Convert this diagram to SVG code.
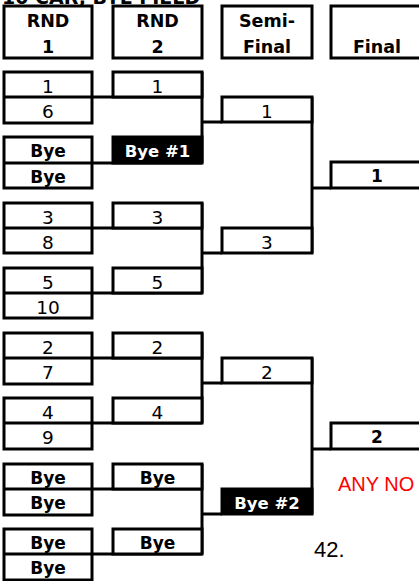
<svg xmlns="http://www.w3.org/2000/svg" width="419" height="581" viewBox="0 0 419 581">
<style>
.b{fill:#fff;stroke:#000;stroke-width:3}
.k{fill:#000;stroke:#000;stroke-width:3}
.l{fill:none;stroke:#000;stroke-width:3}
.t{font-family:"DejaVu Sans",sans-serif;font-size:18.5px;text-anchor:middle;fill:#000}
.tb{font-family:"DejaVu Sans",sans-serif;font-size:17px;font-weight:bold;text-anchor:middle;fill:#000}
.tw{font-family:"DejaVu Sans",sans-serif;font-size:16.5px;font-weight:bold;text-anchor:middle;fill:#fff}
.h{font-family:"DejaVu Sans",sans-serif;font-size:17.5px;font-weight:bold;text-anchor:middle;fill:#000}
</style>
<rect width="419" height="581" fill="#fff"/>
<text x="2" y="4" style="font-family:'DejaVu Sans',sans-serif;font-size:19px;font-weight:bold">10 CAR, BYE FIELD</text>

<g id="headers">
<g id="h-rnd1"><rect class="b" x="4" y="6" width="88" height="52"/><text class="h" x="48" y="27">RND</text><text class="h" x="48" y="53">1</text></g>
<g id="h-rnd2"><rect class="b" x="113" y="6" width="89" height="52"/><text class="h" x="157.5" y="27">RND</text><text class="h" x="157.5" y="53">2</text></g>
<g id="h-semi"><rect class="b" x="222" y="6" width="90" height="52"/><text class="h" x="267" y="27">Semi-</text><text class="h" x="267" y="53">Final</text></g>
<g id="h-final"><rect class="b" x="331" y="6" width="94" height="52"/><text class="h" x="377" y="53">Final</text></g>
</g>

<g id="connectors">
<line class="l" x1="4" y1="97" x2="202" y2="97"/>
<line class="l" x1="4" y1="163" x2="202" y2="163"/>
<line class="l" x1="4" y1="228" x2="202" y2="228"/>
<line class="l" x1="4" y1="293" x2="202" y2="293"/>
<line class="l" x1="4" y1="358" x2="202" y2="358"/>
<line class="l" x1="4" y1="423" x2="202" y2="423"/>
<line class="l" x1="4" y1="489" x2="202" y2="489"/>
<line class="l" x1="4" y1="554" x2="202" y2="554"/>
<line class="l" x1="202" y1="72" x2="202" y2="163"/>
<line class="l" x1="202" y1="203" x2="202" y2="293"/>
<line class="l" x1="202" y1="333" x2="202" y2="423"/>
<line class="l" x1="202" y1="464" x2="202" y2="554"/>
<line class="l" x1="202" y1="122" x2="222" y2="122"/>
<line class="l" x1="202" y1="253" x2="222" y2="253"/>
<line class="l" x1="202" y1="383" x2="222" y2="383"/>
<line class="l" x1="202" y1="514" x2="222" y2="514"/>
<line class="l" x1="312" y1="97" x2="312" y2="253"/>
<line class="l" x1="312" y1="358" x2="312" y2="514"/>
<line class="l" x1="312" y1="188" x2="331" y2="188"/>
<line class="l" x1="312" y1="449" x2="331" y2="449"/>
</g>

<g id="r1-m1"><rect class="b" x="4" y="72" width="88" height="51"/><line class="l" x1="4" y1="97" x2="92" y2="97"/><text class="t" x="48" y="93">1</text><text class="t" x="48" y="118">6</text></g>
<g id="r1-m2"><rect class="b" x="4" y="137" width="88" height="51"/><line class="l" x1="4" y1="163" x2="92" y2="163"/><text class="tb" x="48" y="157">Bye</text><text class="tb" x="48" y="183">Bye</text></g>
<g id="r1-m3"><rect class="b" x="4" y="203" width="88" height="50"/><line class="l" x1="4" y1="228" x2="92" y2="228"/><text class="t" x="48" y="224">3</text><text class="t" x="48" y="249">8</text></g>
<g id="r1-m4"><rect class="b" x="4" y="268" width="88" height="50"/><line class="l" x1="4" y1="293" x2="92" y2="293"/><text class="t" x="48" y="289">5</text><text class="t" x="48" y="314">10</text></g>
<g id="r1-m5"><rect class="b" x="4" y="333" width="88" height="51"/><line class="l" x1="4" y1="358" x2="92" y2="358"/><text class="t" x="48" y="354">2</text><text class="t" x="48" y="379">7</text></g>
<g id="r1-m6"><rect class="b" x="4" y="398" width="88" height="51"/><line class="l" x1="4" y1="423" x2="92" y2="423"/><text class="t" x="48" y="419">4</text><text class="t" x="48" y="444">9</text></g>
<g id="r1-m7"><rect class="b" x="4" y="464" width="88" height="51"/><line class="l" x1="4" y1="489" x2="92" y2="489"/><text class="tb" x="48" y="484">Bye</text><text class="tb" x="48" y="509">Bye</text></g>
<g id="r1-m8"><rect class="b" x="4" y="529" width="88" height="51"/><line class="l" x1="4" y1="554" x2="92" y2="554"/><text class="tb" x="48" y="549">Bye</text><text class="tb" x="48" y="574">Bye</text></g>

<g id="r2-1"><rect class="b" x="113" y="72" width="89" height="25"/><text class="t" x="157.5" y="93">1</text></g>
<g id="r2-2"><rect class="k" x="113" y="137" width="89" height="26"/><text class="tw" x="157.5" y="157">Bye #1</text></g>
<g id="r2-3"><rect class="b" x="113" y="203" width="89" height="25"/><text class="t" x="157.5" y="224">3</text></g>
<g id="r2-4"><rect class="b" x="113" y="268" width="89" height="25"/><text class="t" x="157.5" y="289">5</text></g>
<g id="r2-5"><rect class="b" x="113" y="333" width="89" height="25"/><text class="t" x="157.5" y="354">2</text></g>
<g id="r2-6"><rect class="b" x="113" y="398" width="89" height="25"/><text class="t" x="157.5" y="419">4</text></g>
<g id="r2-7"><rect class="b" x="113" y="464" width="89" height="25"/><text class="tb" x="157.5" y="484">Bye</text></g>
<g id="r2-8"><rect class="b" x="113" y="529" width="89" height="25"/><text class="tb" x="157.5" y="549">Bye</text></g>

<g id="semi-1"><rect class="b" x="222" y="97" width="90" height="25"/><text class="t" x="267" y="118">1</text></g>
<g id="semi-2"><rect class="b" x="222" y="228" width="90" height="25"/><text class="t" x="267" y="249">3</text></g>
<g id="semi-3"><rect class="b" x="222" y="358" width="90" height="25"/><text class="t" x="267" y="379">2</text></g>
<g id="semi-4"><rect class="k" x="222" y="489" width="90" height="25"/><text class="tw" x="267" y="509">Bye #2</text></g>

<g id="final-1"><rect class="b" x="331" y="162" width="94" height="26"/><text class="tb" x="377" y="182">1</text></g>
<g id="final-2"><rect class="b" x="331" y="423" width="94" height="26"/><text class="tb" x="377" y="443">2</text></g>

<text x="338" y="491" style="font-family:'Liberation Sans',sans-serif;font-size:20px;fill:#ff0000">ANY NO</text>
<text x="314" y="557" style="font-family:'Liberation Sans',sans-serif;font-size:22px;fill:#000">42.</text>
</svg>
